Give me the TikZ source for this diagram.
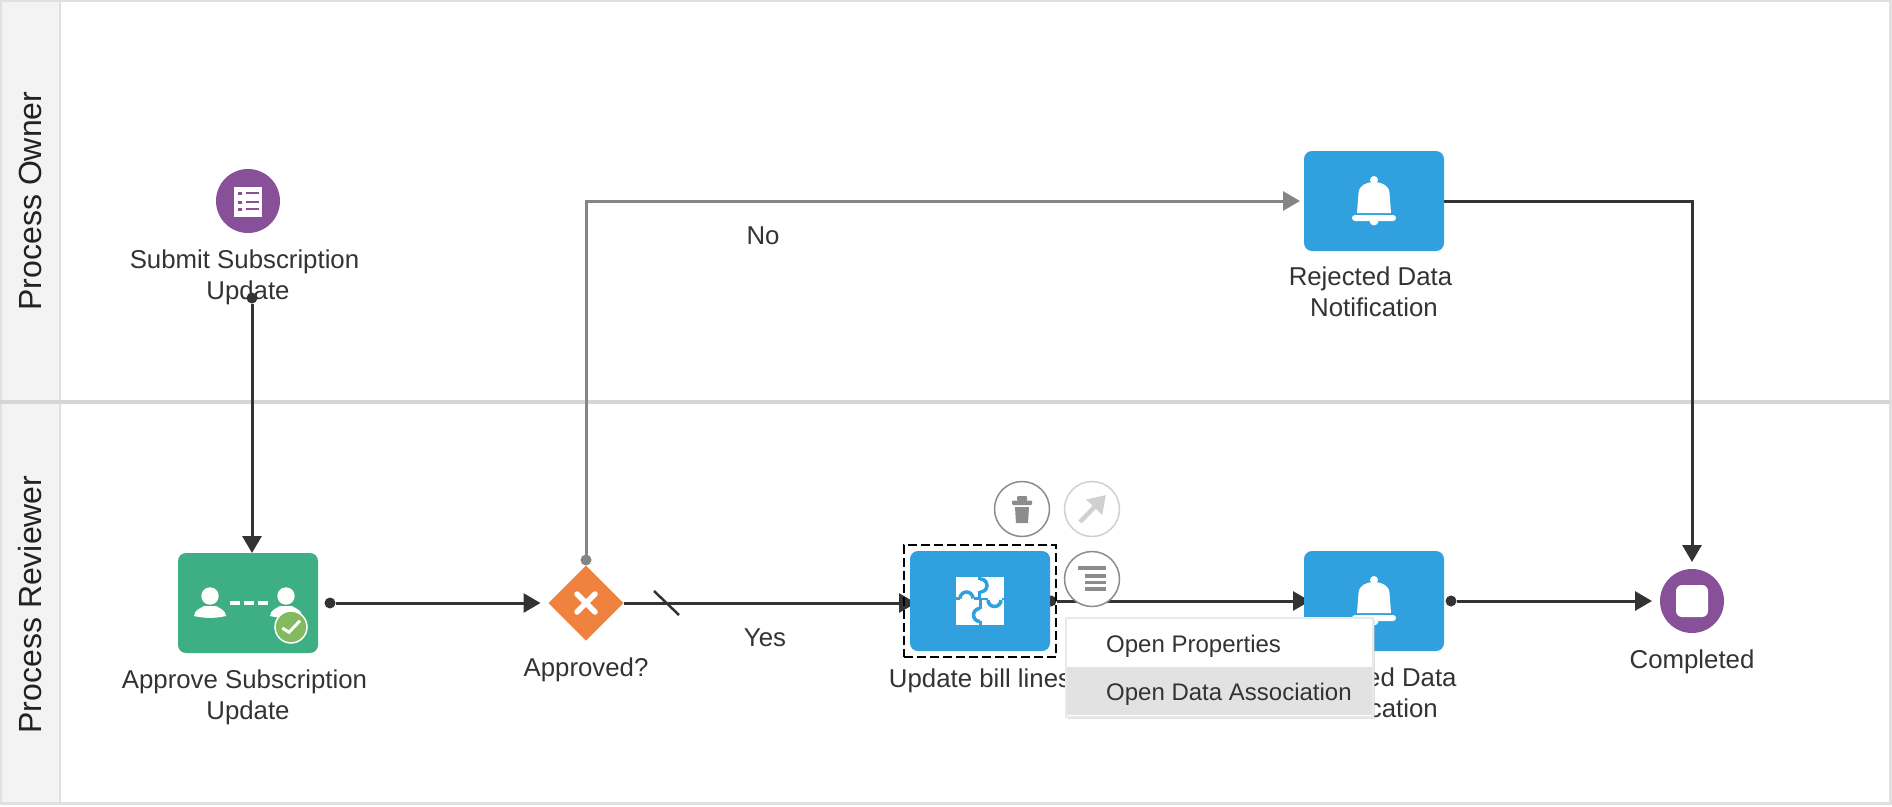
\documentclass[tikz,border=0pt]{standalone}
\usepackage{fontspec}
\setmainfont{Liberation Sans}
\usepackage{xcolor}
\usetikzlibrary{shapes.geometric, arrows.meta, positioning, calc, backgrounds, shadows}

\definecolor{lanegray}{HTML}{E0E0E0}
\definecolor{lanesep}{HTML}{D6D6D6}
\definecolor{headfill}{HTML}{F3F3F3}
\definecolor{inkdark}{HTML}{333333}
\definecolor{inklane}{HTML}{222222}
\definecolor{flowgray}{HTML}{858585}
\definecolor{taskblue}{HTML}{31A0DE}
\definecolor{taskgreen}{HTML}{3EAF84}
\definecolor{eventpurple}{HTML}{875099}
\definecolor{gateorange}{HTML}{EE823E}
\definecolor{badgegreen}{HTML}{82BA5F}
\definecolor{toolgray}{HTML}{8A8C8E}
\definecolor{toolpale}{HTML}{D0D0D0}
\definecolor{rowgray}{HTML}{E2E2E2}

\newcommand{\tsp}{\kern7pt\null}

\tikzset{
    taskbox/.style={rectangle, rounded corners=8pt, minimum width=140pt, minimum height=100pt, inner sep=0pt, outer sep=0pt},
    eventdot/.style={circle, fill=eventpurple, minimum size=64pt, inner sep=0pt, outer sep=0pt},
    endmark/.style={circle, fill=inkdark, minimum size=11pt, inner sep=0pt, outer sep=0pt},
    graymark/.style={circle, fill=flowgray, minimum size=11pt, inner sep=0pt, outer sep=0pt},
    tooldot/.style={circle, draw=toolgray, fill=white, line width=1.5pt, minimum size=55pt, inner sep=0pt, outer sep=0pt},
    steptext/.style={font=\fontsize{25.8}{31}\selectfont, text=inkdark, align=center, inner sep=0pt},
    lanetext/.style={font=\fontsize{32}{36}\selectfont, text=inklane, rotate=90, anchor=base, inner sep=0pt},
    menutext/.style={font=\fontsize{24}{28}\selectfont, text=inkdark, anchor=west, inner sep=0pt},
    flowdark/.style={draw=inkdark, line width=3pt, -{Triangle[length=17pt,width=19pt]}},
    flowlite/.style={draw=flowgray, line width=3pt, -{Triangle[length=17pt,width=19pt]}},
}

\begin{document}
\begin{tikzpicture}[x=1pt, y=-1pt]
    \useasboundingbox (0,0) rectangle (1892,806);

    % Lanes
    \begin{scope}[on background layer]
        \fill[white] (0,0) rectangle (1892,806);
        \fill[headfill] (0,1) rectangle (60,803);
        \draw[lanegray, line width=2pt] (60,1) -- (60,803);
        \draw[lanegray, line width=2.5pt] (0.5,1) rectangle (1890.5,803.5);
        \draw[lanesep, line width=4pt] (0,402) -- (1890,402);
    \end{scope}
    \node[lanetext] (ownerlane) at (41.5,201) {Process Owner};
    \node[lanetext] (reviewerlane) at (41.5,604.5) {Process Reviewer};

    % Connector ends
    \node[endmark] (updateout) at (1051,601) {};
    \node[endmark] (submitout) at (252,298) {};
    \node[endmark] (approveout) at (330,603) {};
    \node[graymark] (gateout) at (586,560) {};
    \node[endmark] (approvedout) at (1451,601) {};

    % Steps
    \node[eventdot] (submit) at (248,201) {};
    \node[taskbox, fill=taskgreen] (approve) at (248,603) {};
    \node[diamond, aspect=1, fill=gateorange, minimum size=75pt, inner sep=0pt, outer sep=0pt] (gateway) at (586,603) {};
    \node[taskbox, fill=taskblue] (update) at (980,601) {};
    \node[taskbox, fill=taskblue] (approved) at (1374,601) {};
    \node[taskbox, fill=taskblue] (rejected) at (1374,201) {};
    \node[eventdot] (completed) at (1692,601) {};

    % Connectors
    \begin{scope}[on background layer]
        \draw[flowdark] (submitout) -- (submitout |- approve.north);
        \draw[flowdark, shorten >=8pt] (approveout) -- (gateway.west);
        \draw[flowdark, shorten >=-6pt] (gateway.east) -- (gateway.east -| update.west);
        \draw[flowdark, shorten >=-6pt] (updateout) -- (approved.west);
        \draw[flowdark, shorten >=8pt] (approvedout) -- (completed.west);
        \draw[flowlite, shorten >=4pt] (gateout) |- (rejected.west);
        \draw[flowdark, shorten >=7pt] (rejected.east) -| (completed.north);
    \end{scope}
    \draw[inkdark, line width=2.5pt] (654,591) -- (679,615);

    % Form icon
    \fill[white] (234,187) rectangle (262,217);
    \foreach \y in {193,202,209} {
        \fill[eventpurple] (238,\y-1.5) rectangle (241.5,\y+1.5);
        \fill[eventpurple] (246,\y-1) rectangle (259,\y+1);
    }

    % Reviewer icon
    \foreach \x in {210,286} {
        \fill[white] (\x,596) circle (8.7pt);
        \fill[white] (\x-16,616) .. controls (\x-16,610) and (\x-9,608) .. (\x-6,606) -- (\x+6,606)
            .. controls (\x+9,608) and (\x+16,610) .. (\x+16,616)
            .. controls (\x+5,618.5) and (\x-5,618.5) .. cycle;
    }
    \foreach \x in {230,244,258} {
        \fill[white] (\x,601) rectangle (\x+10,605);
    }
    \draw[white, fill=badgegreen, line width=1.5pt] (291,627) circle (16pt);
    \draw[white, line width=3pt] (282.3,628) -- (289,632.3) -- (300,620.7);

    % Gateway cross
    \draw[white, line width=5.5pt, line cap=round] (577,594) -- (595,612);
    \draw[white, line width=5.5pt, line cap=round] (595,594) -- (577,612);

    % Bells
    \foreach \bell in {rejected,approved} {
        \begin{scope}[shift={(\bell.center)}]
            \fill[white] (0,-21) circle (4pt);
            \fill[white] (-17,12) -- (-15.5,-8) .. controls (-15,-16) and (-7,-19) .. (0,-19)
                .. controls (7,-19) and (15,-16) .. (15.5,-8) -- (17,12) -- cycle;
            \fill[white, rounded corners=3pt] (-22,14) rectangle (22,20);
            \fill[white] (0,20) circle (4.5pt);
        \end{scope}
    }

    % Puzzle icon
    \fill[white] (956,577) rectangle (1004,625);
    \foreach \a/\b/\c/\d in {979.5/577/979.5/580, 979.5/591/979.5/599, 956/598.5/960/598.5, 974/598.5/981/598.5,
        981/599/988/599, 1002/599/1004/599, 980.5/599/980.5/609, 980.5/621/980.5/625} {
        \draw[taskblue, line width=2.5pt] (\a,\b) -- (\c,\d);
    }
    \foreach \x/\y/\a/\b in {980.5/579/90/-90, 960/598.5/180/0, 988/600/180/360, 980/608.5/90/270} {
        \draw[taskblue, line width=3.5pt] (\x,\y) arc[start angle=\a, end angle=\b, radius=6.5pt];
    }

    % End event mark
    \fill[white, rounded corners=6pt] (1676,585) rectangle (1708,617);

    % Labels
    \node[steptext] (submitlabel) at (248,277.5) {Submit Subscription\tsp\\Update};
    \node[steptext] (approvelabel) at (248,697.5) {Approve Subscription\tsp\\Update};
    \node[steptext] (gatelabel) at (586,670) {Approved?};
    \node[steptext] (updatelabel) at (980,681) {Update bill lines};
    \node[steptext] (approvedlabel) at (1374,692.5) {Approved Data\tsp\\Notification};
    \node[steptext] (rejectedlabel) at (1374,291.5) {Rejected Data\tsp\\Notification};
    \node[steptext] (completedlabel) at (1692,662) {Completed};
    \node[steptext] (nolabel) at (763,236) {No};
    \node[steptext] (yeslabel) at (765,638) {Yes};

    % Selection and tools
    \node[draw=black, line width=2pt, dash pattern=on 9pt off 4pt, minimum width=152pt, minimum height=112pt, inner sep=0pt] (selectframe) at (update) {};
    \node[tooldot] (trashtool) at (1022,509) {};
    \node[tooldot, draw=toolpale] (arrowtool) at (1092,509) {};
    \node[tooldot] (menutool) at (1092,579) {};

    \fill[toolgray, rounded corners=1pt] (1012,500.5) rectangle (1032,505);
    \fill[toolgray, rounded corners=1pt] (1017,496) rectangle (1027,501);
    \fill[toolgray] (1015,507) -- (1029,507) -- (1028,523) -- (1016,523) -- cycle;
    \draw[toolpale, line width=4.5pt, -{Triangle[length=17pt,width=21pt]}] (1080,522) -- (1106,495);
    \draw[toolgray, line width=3.5pt] (1078,568) -- (1106,568);
    \foreach \y in {576,582.5,589} {
        \draw[toolgray, line width=3.5pt] (1085,\y) -- (1106,\y);
    }

    % Menu
    \node[draw=lanegray!70, fill=white, line width=1.5pt, drop shadow={shadow xshift=1.5pt, shadow yshift=-1.5pt, fill=black!22}, minimum width=307pt, minimum height=99pt, inner sep=0pt] (menu) at (1219.5,667.5) {};
    \node[fill=rowgray, minimum width=305pt, minimum height=48pt, inner sep=0pt] (menurow) at (1219.5,691) {};
    \node[menutext] (propsitem) at (1106,646) {Open Properties};
    \node[menutext] (associtem) at (1106,694) {Open Data Association};
\end{tikzpicture}
\end{document}
